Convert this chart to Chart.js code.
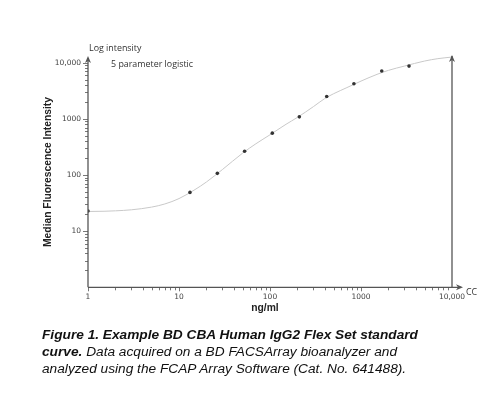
<!DOCTYPE html>
<html>
<head>
<meta charset="utf-8">
<script src="https://cdn.jsdelivr.net/npm/chart.js@4/dist/chart.umd.min.js"></script>
<style>
  html, body { margin: 0; padding: 0; background: #fff; }
  #wrap { position: relative; width: 483px; height: 398px; overflow: hidden; }
  #c { position: absolute; left: 0; top: 0; }
  .cap { position: absolute; left: 42px; font-family: "Liberation Sans", Arial, sans-serif; font-size: 13.7px; font-style: italic; color: #111; white-space: nowrap; line-height: 17px; }
  .cap b { font-weight: bold; }
</style>
</head>
<body>
<div id="wrap">
  <canvas id="c" width="483" height="398"></canvas>
  <div class="cap" style="top:326px"><b>Figure 1. Example BD CBA Human IgG2 Flex Set standard</b></div>
  <div class="cap" style="top:343px"><b>curve.</b> Data acquired on a BD FACSArray bioanalyzer and</div>
  <div class="cap" style="top:360px">analyzed using the FCAP Array Software (Cat. No. 641488).</div>
</div>
<script>
// ---- data ----
const concentrations = [1, 13.2, 26.4, 52.6, 106, 210, 420, 836, 1690, 3370];
const intensities    = [22.8, 49, 107, 265, 556, 1086, 2500, 4220, 7100, 8700];

// fitted 5-parameter logistic curve
const curveX = [1, 1.5, 2, 3, 5, 7, 10, 15, 20, 30, 50, 70, 100, 150, 200, 300, 400, 500, 700, 1000, 1500, 2000, 3000, 5000, 7000, 10000];
const curveY = [22.4, 22.6, 23, 24, 26.8, 30.5, 38, 55, 75, 125, 245, 360, 520, 800, 1060, 1650, 2300, 2800, 3600, 4700, 6200, 7300, 8700, 10700, 11800, 12600];

const xTickValues = [1, 10, 100, 1000, 10000];
const xTickLabels = ['1', '10', '100', '1000', '10,000'];
const yTickValues = [10, 100, 1000, 10000];
const yTickLabels = ['10', '100', '1000', '10,000'];

const xTitle = 'ng/ml';
const yTitle = 'Median Fluorescence Intensity';
const yUnitLabel = 'Log intensity';
const fitLabel = '5 parameter logistic';
const xEndLabel = 'CC';

const axisColor = '#555';
const textColor = '#444';

const axesPlugin = {
  id: 'customAxes',
  afterDraw(chart) {
    const ctx = chart.ctx;
    const xs = chart.scales.x, ys = chart.scales.y;
    const x0 = xs.getPixelForValue(1), y0 = ys.getPixelForValue(1);
    const xEnd = xs.getPixelForValue(10000);
    ctx.save();
    ctx.strokeStyle = axisColor;
    ctx.fillStyle = axisColor;
    ctx.lineWidth = 1.3;
    const topY = 56;
    ctx.beginPath(); ctx.moveTo(x0, y0); ctx.lineTo(x0, topY + 2); ctx.stroke();
    ctx.beginPath(); ctx.moveTo(xEnd, y0); ctx.lineTo(xEnd, topY); ctx.stroke();
    const arrowX = xEnd + 11;
    ctx.beginPath(); ctx.moveTo(x0, y0); ctx.lineTo(arrowX - 2, y0); ctx.stroke();
    function upArrow(x, y) {
      ctx.beginPath(); ctx.moveTo(x, y); ctx.lineTo(x - 3, y + 7); ctx.lineTo(x, y + 5); ctx.lineTo(x + 3, y + 7); ctx.closePath(); ctx.fill();
    }
    upArrow(x0, topY);
    upArrow(xEnd, topY - 1);
    ctx.beginPath(); ctx.moveTo(arrowX, y0); ctx.lineTo(arrowX - 7, y0 - 3); ctx.lineTo(arrowX - 5, y0); ctx.lineTo(arrowX - 7, y0 + 3); ctx.closePath(); ctx.fill();

    ctx.lineWidth = 0.8;
    for (let d = 0; d < 4; d++) {
      for (let m = 1; m <= 9; m++) {
        const v = Math.pow(10, d) * m;
        const px = Math.round(xs.getPixelForValue(v)) + 0.5;
        ctx.beginPath(); ctx.moveTo(px, y0); ctx.lineTo(px, y0 + (m === 1 ? 4 : 3)); ctx.stroke();
      }
    }
    for (let d = 0; d < 4; d++) {
      for (let m = 1; m <= 9; m++) {
        const v = Math.pow(10, d) * m;
        if (v === 1) continue;
        const py = Math.round(ys.getPixelForValue(v)) + 0.5;
        ctx.beginPath(); ctx.moveTo(x0, py); ctx.lineTo(x0 - (m === 1 ? 5 : 3), py); ctx.stroke();
      }
    }
    {
      const py = Math.round(ys.getPixelForValue(10000)) + 0.5;
      ctx.beginPath(); ctx.moveTo(x0, py); ctx.lineTo(x0 - 5, py); ctx.stroke();
    }
    ctx.fillStyle = textColor;
    ctx.font = '7.5px "DejaVu Sans", sans-serif';
    ctx.textAlign = 'center'; ctx.textBaseline = 'middle';
    xTickValues.forEach((v, i) => {
      ctx.fillText(xTickLabels[i], xs.getPixelForValue(v), y0 + 10);
    });
    ctx.textAlign = 'right';
    yTickValues.forEach((v, i) => {
      ctx.fillText(yTickLabels[i], x0 - 7, ys.getPixelForValue(v));
    });
    ctx.font = '8.9px "Open Sans", sans-serif';
    ctx.fillStyle = '#333';
    ctx.textAlign = 'left';
    ctx.fillText(yUnitLabel, x0 + 1, 48);
    ctx.fillText(fitLabel, 111, 64);
    ctx.fillText(xEndLabel, arrowX + 3, y0 + 5);
    ctx.fillStyle = '#222';
    ctx.font = 'bold 10.3px "Liberation Sans", Arial, sans-serif';
    ctx.textAlign = 'center';
    ctx.fillText(xTitle, 265, 308);
    ctx.save();
    ctx.translate(48, 172);
    ctx.rotate(-Math.PI / 2);
    ctx.fillText(yTitle, 0, 0);
    ctx.restore();
    ctx.restore();
  }
};

new Chart(document.getElementById('c'), {
  type: 'line',
  data: {
    datasets: [
      {
        label: 'fit',
        data: curveX.map((x, i) => ({ x, y: curveY[i] })),
        borderColor: '#c9c9c9',
        borderWidth: 1,
        pointRadius: 0,
        cubicInterpolationMode: 'monotone',
        fill: false,
        order: 2
      },
      {
        label: 'standards',
        data: concentrations.map((x, i) => ({ x, y: intensities[i] })),
        showLine: false,
        pointRadius: 1.8,
        pointBackgroundColor: '#333',
        pointBorderColor: '#333',
        pointBorderWidth: 0,
        order: 1
      }
    ]
  },
  options: {
    responsive: false,
    animation: false,
    events: [],
    layout: { padding: { left: 88, right: 31, top: 52, bottom: 110.7 } },
    plugins: { legend: { display: false }, tooltip: { enabled: false } },
    scales: {
      x: { type: 'logarithmic', min: 1, max: 10000, display: false },
      y: { type: 'logarithmic', min: 1, max: 15500, display: false }
    }
  },
  plugins: [axesPlugin]
});
</script>
</body>
</html>
